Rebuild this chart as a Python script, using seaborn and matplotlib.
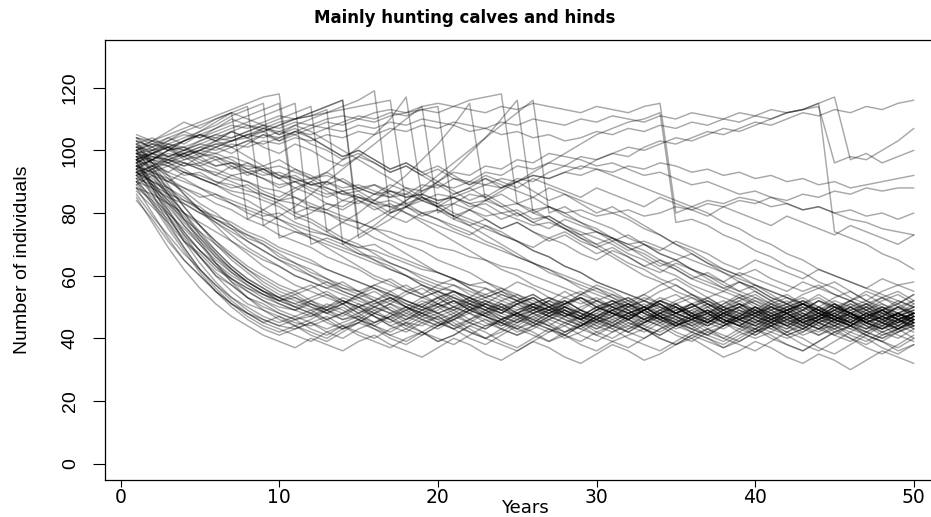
import numpy as np
import pandas as pd
import matplotlib
matplotlib.use("Agg")
import matplotlib.pyplot as plt
import seaborn as sns

# Simulated red deer population size per year (years 1..50), one list per run.
# Runs that fall quickly to the harvested equilibrium.
fast_decline = [
    [96, 88, 80, 74, 68, 63, 58, 55, 52, 50, 49, 51, 48, 46, 47, 50, 48, 45, 44, 47, 49, 46, 44, 45, 48, 50, 47, 45, 43, 46, 48, 47, 44, 42, 45, 47, 49, 46, 44, 43, 46, 48, 45, 43, 44, 47, 45, 42, 44, 46],
    [92, 86, 79, 71, 66, 60, 57, 53, 51, 48, 46, 47, 50, 52, 49, 47, 45, 48, 51, 53, 50, 48, 46, 44, 47, 49, 52, 50, 47, 45, 43, 46, 49, 51, 48, 46, 44, 47, 50, 48, 45, 42, 44, 46, 49, 47, 44, 41, 43, 45],
    [100, 93, 86, 78, 72, 66, 61, 57, 54, 52, 53, 50, 48, 51, 54, 52, 49, 47, 50, 53, 55, 52, 50, 48, 51, 53, 50, 47, 49, 52, 54, 51, 48, 46, 49, 51, 53, 50, 47, 45, 48, 50, 52, 49, 46, 48, 51, 49, 47, 50],
    [88, 80, 72, 65, 60, 55, 51, 48, 46, 44, 43, 45, 47, 44, 42, 40, 43, 45, 42, 40, 38, 41, 44, 46, 43, 41, 39, 42, 44, 41, 39, 37, 40, 43, 45, 42, 40, 38, 41, 43, 40, 38, 36, 39, 42, 44, 41, 39, 37, 40],
    [94, 90, 84, 79, 73, 68, 63, 59, 56, 53, 51, 49, 50, 48, 46, 49, 51, 48, 46, 44, 46, 49, 47, 45, 43, 45, 48, 50, 48, 46, 44, 47, 50, 47, 45, 43, 41, 44, 46, 48, 45, 43, 46, 48, 45, 43, 41, 44, 46, 43],
    [98, 89, 81, 73, 66, 60, 55, 51, 49, 47, 45, 44, 46, 48, 50, 47, 44, 42, 45, 47, 44, 42, 40, 43, 46, 48, 45, 42, 44, 47, 49, 46, 43, 41, 44, 46, 43, 41, 39, 42, 45, 47, 44, 41, 43, 45, 42, 40, 42, 45],
    [90, 85, 80, 75, 70, 65, 61, 58, 55, 53, 55, 57, 54, 52, 50, 52, 55, 57, 54, 51, 49, 52, 54, 56, 53, 50, 48, 51, 54, 56, 53, 50, 52, 55, 57, 54, 51, 49, 52, 54, 51, 49, 47, 50, 53, 55, 52, 50, 48, 51],
    [102, 95, 87, 80, 73, 67, 62, 58, 55, 52, 50, 48, 46, 48, 51, 49, 46, 44, 47, 50, 52, 49, 47, 45, 42, 44, 47, 49, 46, 44, 47, 49, 51, 48, 45, 43, 46, 48, 45, 42, 44, 47, 49, 46, 44, 42, 45, 47, 44, 42],
    [86, 79, 73, 67, 62, 57, 53, 50, 47, 45, 47, 49, 46, 43, 45, 48, 46, 43, 41, 44, 47, 45, 43, 46, 48, 45, 43, 40, 42, 45, 47, 44, 42, 45, 47, 45, 42, 40, 43, 46, 44, 41, 43, 46, 48, 45, 43, 46, 48, 45],
    [95, 91, 86, 80, 76, 71, 67, 63, 60, 57, 55, 52, 50, 53, 51, 48, 46, 49, 51, 48, 50, 53, 50, 47, 45, 48, 46, 44, 47, 50, 52, 49, 46, 48, 51, 48, 45, 47, 50, 52, 49, 46, 44, 47, 49, 46, 44, 47, 45, 48],
    [91, 84, 76, 69, 62, 57, 52, 48, 45, 43, 41, 39, 42, 44, 41, 39, 37, 40, 42, 39, 41, 44, 42, 39, 37, 40, 43, 41, 38, 36, 39, 41, 43, 40, 38, 41, 43, 40, 38, 36, 39, 42, 40, 37, 35, 38, 41, 39, 36, 38],
    [99, 94, 88, 82, 76, 71, 66, 62, 58, 55, 53, 51, 49, 51, 53, 55, 52, 50, 48, 50, 52, 49, 47, 50, 52, 54, 51, 49, 46, 49, 51, 53, 50, 48, 46, 49, 51, 48, 46, 49, 52, 50, 47, 45, 48, 50, 47, 45, 48, 50],
    [93, 87, 81, 74, 68, 63, 59, 56, 53, 51, 49, 47, 49, 52, 50, 47, 44, 46, 49, 47, 44, 46, 49, 51, 48, 46, 44, 42, 45, 48, 46, 43, 45, 48, 50, 47, 44, 46, 49, 47, 44, 42, 45, 47, 50, 48, 45, 43, 46, 48],
    [97, 92, 85, 78, 71, 64, 58, 53, 49, 46, 44, 46, 49, 51, 48, 45, 47, 50, 53, 55, 52, 49, 51, 54, 52, 49, 47, 50, 48, 45, 47, 50, 52, 49, 47, 44, 46, 49, 51, 48, 50, 52, 49, 47, 44, 46, 49, 51, 48, 46],
    [89, 83, 78, 72, 66, 61, 57, 53, 50, 48, 46, 48, 45, 43, 45, 48, 50, 47, 45, 43, 46, 48, 45, 43, 41, 44, 46, 49, 47, 44, 42, 44, 47, 45, 42, 40, 43, 45, 48, 46, 43, 41, 43, 46, 44, 41, 39, 42, 44, 47],
    [101, 97, 92, 86, 81, 76, 71, 67, 63, 60, 57, 55, 53, 51, 54, 56, 53, 51, 49, 52, 55, 53, 50, 48, 51, 49, 47, 50, 53, 51, 48, 46, 49, 52, 50, 47, 45, 48, 51, 49, 46, 48, 51, 53, 50, 48, 45, 47, 50, 52],
    [94, 86, 77, 69, 62, 56, 51, 47, 44, 42, 44, 41, 39, 42, 45, 43, 40, 38, 41, 44, 46, 43, 40, 38, 36, 39, 42, 44, 41, 39, 42, 45, 43, 40, 38, 41, 39, 37, 40, 43, 41, 38, 36, 39, 42, 40, 37, 35, 38, 41],
    [87, 82, 77, 71, 67, 62, 59, 56, 54, 51, 49, 52, 54, 51, 48, 50, 53, 50, 48, 45, 47, 50, 52, 49, 47, 49, 52, 55, 52, 49, 47, 50, 53, 51, 48, 46, 48, 51, 54, 51, 48, 46, 49, 52, 50, 47, 49, 52, 54, 51],
    [96, 90, 83, 76, 70, 64, 59, 55, 52, 49, 47, 45, 43, 45, 47, 44, 42, 45, 48, 46, 43, 45, 48, 50, 47, 44, 42, 45, 43, 41, 44, 47, 49, 46, 43, 45, 48, 45, 43, 41, 44, 46, 43, 41, 44, 47, 44, 42, 40, 43],
    [92, 88, 83, 78, 74, 70, 66, 62, 59, 56, 54, 56, 58, 55, 53, 50, 52, 55, 57, 54, 51, 53, 56, 53, 51, 48, 50, 53, 55, 52, 50, 47, 49, 52, 54, 51, 48, 50, 53, 55, 52, 49, 51, 54, 51, 48, 50, 53, 55, 52],
    [84, 78, 71, 65, 60, 55, 51, 48, 45, 47, 44, 42, 40, 43, 46, 44, 41, 43, 46, 48, 45, 42, 40, 42, 45, 47, 44, 41, 39, 42, 44, 46, 43, 41, 44, 46, 48, 45, 42, 40, 42, 45, 47, 44, 41, 39, 42, 44, 41, 39],
    [98, 93, 86, 80, 74, 68, 63, 59, 56, 53, 50, 52, 49, 47, 50, 52, 49, 46, 48, 51, 53, 50, 47, 45, 48, 50, 47, 45, 47, 50, 48, 45, 43, 46, 48, 51, 48, 45, 47, 50, 47, 44, 46, 49, 47, 44, 42, 45, 48, 46],
    [90, 83, 75, 68, 61, 55, 50, 46, 43, 41, 43, 45, 42, 40, 43, 45, 47, 44, 42, 39, 41, 44, 46, 43, 41, 43, 46, 48, 45, 42, 40, 43, 46, 44, 41, 39, 42, 44, 47, 44, 42, 40, 42, 45, 43, 40, 38, 41, 43, 40],
    [95, 89, 84, 77, 72, 67, 62, 58, 55, 52, 54, 51, 49, 46, 48, 51, 53, 50, 47, 49, 52, 50, 47, 44, 46, 49, 51, 48, 46, 48, 51, 49, 46, 44, 47, 49, 46, 44, 47, 50, 48, 45, 47, 50, 47, 45, 48, 46, 43, 46],
    [103, 96, 89, 82, 76, 70, 65, 61, 57, 54, 52, 50, 48, 50, 47, 45, 48, 50, 47, 45, 43, 46, 48, 51, 48, 46, 49, 47, 44, 46, 49, 51, 48, 45, 48, 50, 52, 49, 46, 44, 47, 49, 46, 48, 51, 48, 46, 44, 47, 49],
    [88, 84, 79, 73, 68, 64, 60, 57, 54, 52, 50, 48, 51, 49, 46, 44, 47, 49, 46, 44, 47, 50, 48, 45, 43, 46, 44, 47, 49, 46, 44, 42, 45, 47, 44, 42, 45, 48, 46, 43, 45, 48, 46, 43, 41, 44, 46, 49, 46, 43],
    [93, 89, 82, 76, 71, 66, 62, 58, 55, 53, 51, 53, 55, 52, 50, 48, 51, 54, 56, 53, 50, 48, 51, 49, 52, 54, 51, 48, 46, 49, 52, 50, 47, 49, 52, 54, 51, 48, 46, 48, 51, 53, 50, 48, 51, 48, 46, 49, 51, 54],
    [97, 88, 79, 71, 64, 58, 53, 49, 46, 44, 46, 43, 41, 44, 46, 43, 41, 39, 42, 45, 43, 40, 38, 41, 44, 42, 39, 41, 44, 46, 43, 40, 38, 36, 39, 42, 40, 37, 39, 42, 44, 41, 38, 36, 39, 42, 40, 37, 35, 38],
    [85, 77, 69, 62, 56, 51, 47, 44, 41, 39, 37, 40, 38, 36, 39, 41, 38, 36, 34, 37, 40, 38, 35, 33, 36, 39, 37, 34, 32, 35, 38, 36, 33, 35, 38, 40, 37, 34, 36, 39, 37, 34, 32, 35, 33, 30, 33, 36, 34, 32],
    [100, 96, 91, 86, 81, 77, 73, 69, 66, 63, 60, 58, 56, 58, 55, 57, 59, 56, 54, 57, 59, 56, 53, 55, 58, 56, 53, 51, 54, 57, 55, 52, 54, 57, 59, 56, 53, 55, 58, 56, 53, 51, 54, 56, 58, 55, 52, 55, 57, 55],
]

# Runs that settle more gradually, reaching the equilibrium band after 15-30 years.
medium_decline = [
    [97, 94, 90, 87, 83, 80, 76, 73, 70, 67, 64, 62, 59, 57, 55, 53, 51, 49, 52, 50, 47, 49, 52, 50, 47, 45, 48, 50, 47, 45, 48, 51, 49, 46, 44, 47, 49, 46, 44, 47, 50, 48, 45, 43, 46, 48, 45, 43, 46, 44],
    [91, 89, 86, 84, 81, 79, 77, 74, 72, 69, 67, 65, 62, 60, 58, 56, 54, 52, 50, 48, 50, 52, 49, 47, 45, 48, 50, 47, 45, 43, 46, 48, 50, 47, 44, 46, 49, 47, 44, 42, 45, 47, 44, 42, 45, 48, 46, 43, 45, 47],
    [103, 101, 98, 96, 95, 92, 90, 88, 85, 83, 80, 78, 75, 72, 70, 67, 64, 62, 59, 57, 55, 53, 51, 49, 47, 50, 52, 49, 47, 50, 52, 49, 46, 48, 51, 53, 50, 47, 45, 48, 50, 47, 45, 48, 51, 49, 46, 44, 47, 49],
    [94, 92, 88, 85, 81, 78, 75, 71, 68, 65, 62, 60, 57, 55, 53, 51, 53, 50, 48, 46, 48, 51, 49, 46, 44, 47, 49, 52, 49, 47, 44, 42, 45, 48, 46, 43, 41, 44, 46, 49, 46, 44, 42, 45, 47, 44, 42, 40, 43, 45],
    [99, 98, 96, 93, 91, 89, 87, 86, 84, 82, 79, 77, 74, 71, 68, 65, 63, 60, 57, 55, 53, 51, 53, 55, 52, 50, 48, 51, 53, 50, 48, 46, 49, 52, 50, 47, 45, 48, 50, 53, 50, 48, 45, 47, 50, 52, 49, 47, 44, 47],
    [88, 86, 83, 80, 77, 74, 71, 68, 65, 63, 60, 58, 56, 54, 52, 50, 48, 46, 49, 51, 48, 45, 43, 46, 48, 45, 43, 41, 44, 47, 45, 42, 40, 43, 46, 44, 41, 39, 42, 45, 47, 44, 41, 43, 46, 44, 41, 39, 42, 44],
    [101, 99, 97, 96, 94, 93, 91, 90, 88, 87, 85, 83, 81, 79, 77, 75, 72, 70, 68, 65, 63, 61, 58, 56, 54, 52, 50, 52, 49, 47, 50, 52, 49, 46, 48, 51, 48, 46, 44, 47, 49, 46, 44, 47, 49, 52, 49, 46, 48, 50],
    [95, 93, 91, 88, 86, 83, 81, 78, 76, 73, 71, 69, 66, 64, 62, 59, 57, 55, 53, 55, 57, 54, 52, 50, 48, 51, 53, 51, 48, 46, 49, 51, 54, 51, 48, 50, 53, 50, 48, 46, 49, 51, 48, 46, 49, 52, 50, 47, 45, 48],
    [104, 103, 102, 100, 99, 98, 96, 95, 94, 92, 91, 89, 88, 86, 85, 83, 82, 80, 78, 76, 74, 72, 70, 68, 66, 64, 62, 60, 58, 56, 54, 52, 50, 52, 49, 47, 50, 52, 49, 47, 45, 48, 50, 47, 45, 47, 50, 48, 45, 47],
    [90, 88, 85, 83, 80, 78, 75, 73, 71, 68, 66, 64, 62, 60, 58, 56, 54, 52, 50, 48, 46, 49, 51, 48, 46, 44, 47, 49, 46, 43, 45, 48, 50, 47, 44, 46, 49, 46, 44, 41, 44, 46, 48, 45, 42, 44, 47, 45, 42, 44],
    [98, 96, 95, 93, 92, 90, 89, 87, 86, 84, 83, 81, 80, 78, 77, 75, 74, 72, 71, 69, 68, 66, 65, 63, 62, 60, 58, 56, 54, 52, 50, 48, 50, 53, 51, 48, 46, 49, 51, 48, 46, 44, 47, 49, 46, 44, 47, 50, 48, 46],
    [93, 90, 88, 84, 82, 78, 76, 72, 70, 66, 64, 61, 59, 56, 55, 52, 54, 51, 49, 51, 54, 51, 49, 46, 48, 51, 49, 46, 44, 47, 50, 48, 45, 47, 50, 48, 45, 43, 46, 48, 51, 48, 45, 47, 50, 48, 45, 43, 46, 48],
]

# Runs that stay near the start level for a while before declining.
slow_decline = [
    [102, 99, 96, 94, 91, 89, 86, 84, 81, 78, 75, 72, 69, 66, 63, 60, 58, 55, 53, 51, 49, 51, 48, 46, 49, 51, 48, 46, 44, 47, 49, 46, 44, 47, 49, 51, 48, 45, 47, 50, 48, 45, 43, 46, 48, 45, 43, 46, 48, 45],
    [98, 97, 95, 92, 93, 90, 88, 89, 86, 84, 85, 82, 80, 77, 75, 72, 70, 67, 64, 61, 59, 56, 54, 52, 50, 48, 50, 52, 49, 47, 45, 48, 50, 47, 45, 48, 51, 48, 46, 44, 47, 49, 46, 44, 47, 50, 47, 45, 43, 46],
    [105, 103, 100, 101, 98, 99, 97, 94, 95, 92, 90, 91, 88, 86, 87, 84, 82, 83, 80, 78, 76, 74, 71, 69, 66, 64, 61, 59, 56, 54, 52, 50, 48, 50, 47, 45, 47, 50, 48, 45, 43, 46, 48, 45, 47, 50, 48, 45, 43, 46],
    [95, 93, 90, 88, 85, 86, 83, 81, 79, 80, 77, 75, 73, 71, 69, 70, 67, 65, 63, 61, 59, 57, 58, 55, 53, 51, 49, 51, 53, 50, 48, 46, 49, 51, 48, 46, 48, 51, 53, 50, 47, 49, 52, 50, 47, 45, 48, 50, 47, 49],
    [100, 98, 97, 95, 96, 94, 92, 93, 91, 89, 90, 88, 86, 87, 85, 83, 84, 82, 80, 81, 79, 77, 75, 73, 71, 68, 66, 63, 61, 58, 56, 54, 52, 50, 48, 50, 47, 45, 48, 50, 47, 45, 43, 46, 48, 46, 43, 45, 48, 46],
    [93, 90, 87, 83, 80, 77, 74, 71, 68, 65, 63, 60, 58, 56, 54, 57, 55, 52, 50, 53, 55, 52, 50, 48, 51, 53, 50, 48, 46, 49, 51, 48, 46, 49, 47, 44, 47, 49, 46, 44, 46, 49, 51, 48, 46, 44, 47, 49, 46, 44],
    [104, 100, 101, 97, 98, 95, 96, 93, 94, 91, 92, 89, 90, 87, 88, 86, 87, 85, 86, 84, 85, 82, 83, 80, 81, 78, 79, 76, 74, 72, 70, 67, 65, 62, 60, 57, 55, 53, 51, 49, 47, 49, 51, 48, 46, 49, 51, 48, 46, 48],
    [97, 95, 92, 90, 88, 85, 83, 80, 78, 76, 74, 72, 70, 68, 66, 64, 62, 60, 58, 56, 55, 53, 51, 49, 51, 53, 50, 48, 46, 49, 51, 53, 50, 47, 45, 48, 50, 47, 45, 43, 46, 48, 45, 47, 50, 48, 45, 43, 45, 48],
    [101, 100, 98, 99, 97, 95, 96, 94, 92, 93, 91, 89, 90, 88, 89, 87, 85, 86, 84, 82, 83, 81, 79, 80, 78, 76, 77, 75, 73, 74, 72, 70, 71, 69, 67, 65, 63, 61, 59, 57, 55, 53, 51, 49, 51, 48, 46, 49, 51, 48],
    [99, 96, 93, 91, 88, 86, 84, 82, 80, 78, 76, 74, 73, 71, 69, 68, 66, 64, 62, 61, 59, 57, 56, 54, 52, 50, 49, 51, 53, 50, 48, 46, 49, 51, 48, 46, 44, 47, 49, 46, 44, 47, 49, 52, 49, 47, 45, 47, 50, 48],
]

# Runs that wander at high numbers for decades before drifting down.
wandering = [
    [96, 99, 101, 98, 100, 103, 101, 98, 95, 97, 94, 91, 93, 90, 87, 89, 86, 83, 85, 82, 79, 81, 78, 75, 77, 74, 71, 73, 70, 67, 69, 66, 63, 65, 62, 59, 61, 58, 55, 57, 54, 51, 53, 50, 48, 51, 49, 46, 48, 45],
    [94, 97, 100, 103, 105, 103, 106, 104, 101, 99, 102, 100, 97, 95, 98, 96, 93, 95, 92, 94, 91, 89, 92, 90, 88, 91, 89, 87, 85, 88, 86, 84, 82, 85, 83, 81, 79, 82, 80, 78, 76, 79, 77, 75, 73, 76, 74, 72, 70, 73],
    [102, 104, 101, 99, 96, 98, 95, 92, 94, 91, 88, 90, 87, 84, 86, 83, 80, 82, 79, 81, 78, 76, 78, 75, 77, 74, 72, 74, 71, 69, 71, 68, 70, 67, 65, 67, 64, 62, 60, 62, 59, 57, 55, 57, 54, 52, 54, 51, 49, 52],
    [91, 94, 97, 95, 98, 101, 99, 102, 105, 103, 106, 104, 101, 98, 100, 97, 94, 96, 93, 90, 87, 84, 86, 83, 80, 77, 79, 76, 73, 70, 72, 69, 66, 63, 65, 62, 59, 56, 58, 55, 52, 54, 51, 49, 52, 50, 47, 49, 52, 50],
    [99, 97, 100, 98, 95, 97, 94, 96, 93, 91, 94, 92, 89, 91, 88, 86, 89, 87, 84, 82, 85, 83, 81, 78, 80, 77, 75, 78, 76, 74, 71, 73, 70, 68, 71, 69, 67, 64, 62, 65, 63, 61, 59, 62, 60, 58, 56, 59, 57, 58],
    [97, 100, 103, 106, 104, 107, 110, 108, 106, 103, 105, 102, 100, 97, 99, 96, 93, 95, 92, 89, 86, 88, 85, 82, 79, 81, 78, 75, 72, 69, 66, 63, 60, 58, 55, 53, 51, 49, 51, 48, 46, 49, 51, 48, 46, 44, 47, 49, 46, 48],
    [93, 95, 93, 96, 94, 92, 95, 93, 91, 88, 90, 87, 85, 87, 84, 81, 83, 80, 77, 74, 71, 68, 65, 62, 60, 57, 55, 53, 51, 53, 50, 48, 46, 49, 51, 48, 46, 44, 47, 49, 46, 44, 47, 50, 47, 45, 48, 46, 43, 45],
    [100, 103, 106, 109, 107, 110, 112, 110, 108, 105, 107, 104, 101, 98, 100, 97, 94, 96, 93, 95, 92, 89, 91, 88, 90, 87, 84, 86, 83, 80, 82, 79, 76, 73, 70, 67, 64, 61, 58, 56, 53, 51, 49, 52, 50, 47, 45, 48, 50, 47],
    [89, 92, 90, 93, 91, 89, 92, 90, 87, 85, 88, 86, 83, 81, 84, 82, 79, 77, 80, 78, 75, 73, 76, 74, 71, 69, 72, 70, 67, 65, 68, 66, 63, 61, 64, 62, 60, 58, 61, 59, 57, 55, 58, 56, 54, 52, 55, 53, 51, 54],
    [103, 101, 104, 102, 105, 103, 106, 104, 107, 105, 108, 106, 103, 100, 97, 94, 91, 88, 85, 82, 79, 76, 73, 70, 67, 64, 62, 59, 57, 55, 53, 51, 49, 52, 50, 47, 45, 48, 50, 47, 45, 48, 51, 49, 46, 44, 47, 49, 46, 48],
]

# Runs that grow past the cull threshold and are knocked back in one season.
culled_peaks = [
    [92, 95, 98, 100, 103, 105, 107, 109, 111, 113, 115, 70, 72, 70, 67, 65, 62, 60, 57, 55, 53, 51, 49, 52, 54, 51, 49, 47, 50, 52, 49, 47, 45, 48, 50, 47, 45, 48, 50, 47, 45, 43, 46, 48, 45, 43, 46, 48, 46, 44],
    [95, 97, 96, 99, 101, 103, 104, 106, 108, 110, 112, 114, 74, 77, 80, 84, 88, 92, 97, 102, 108, 115, 84, 86, 83, 80, 78, 75, 72, 70, 67, 64, 62, 59, 57, 54, 52, 50, 52, 49, 47, 50, 52, 49, 47, 45, 48, 50, 47, 45],
    [98, 99, 101, 100, 102, 104, 103, 105, 107, 106, 108, 110, 112, 114, 116, 119, 80, 82, 85, 83, 86, 88, 91, 89, 87, 85, 82, 80, 77, 75, 72, 70, 68, 65, 63, 60, 58, 56, 54, 52, 50, 48, 50, 47, 45, 48, 50, 47, 45, 47],
    [94, 97, 100, 103, 106, 109, 112, 78, 81, 84, 87, 90, 93, 97, 101, 105, 110, 117, 85, 83, 80, 78, 76, 73, 71, 68, 66, 63, 61, 58, 56, 54, 52, 50, 48, 50, 52, 49, 47, 45, 48, 50, 47, 45, 43, 46, 48, 45, 43, 46],
    [90, 93, 95, 97, 99, 101, 103, 104, 106, 108, 110, 112, 114, 116, 72, 75, 78, 82, 86, 90, 94, 99, 104, 110, 116, 80, 82, 79, 77, 74, 72, 69, 67, 64, 62, 59, 57, 55, 53, 51, 49, 51, 48, 46, 49, 51, 48, 46, 44, 47],
    [97, 99, 98, 100, 102, 101, 103, 105, 104, 106, 105, 107, 109, 108, 110, 109, 111, 112, 113, 114, 78, 81, 84, 87, 90, 93, 96, 99, 102, 105, 107, 109, 110, 112, 77, 78, 76, 73, 71, 68, 66, 63, 61, 58, 56, 53, 51, 53, 50, 48],
    [96, 99, 102, 104, 106, 108, 111, 113, 115, 72, 74, 73, 71, 69, 67, 66, 64, 62, 60, 58, 57, 55, 53, 51, 49, 51, 53, 50, 48, 46, 49, 51, 48, 46, 44, 47, 49, 46, 44, 47, 50, 48, 45, 43, 46, 48, 45, 47, 50, 47],
    [100, 102, 101, 103, 105, 104, 106, 108, 107, 109, 110, 111, 112, 113, 114, 115, 116, 82, 84, 86, 85, 87, 89, 88, 90, 92, 91, 93, 95, 94, 92, 90, 88, 86, 84, 82, 80, 77, 75, 72, 70, 67, 65, 62, 60, 58, 56, 54, 52, 50],
    [93, 95, 97, 99, 100, 102, 103, 105, 106, 108, 110, 111, 113, 70, 73, 76, 80, 84, 88, 92, 96, 100, 104, 108, 112, 116, 80, 82, 79, 77, 75, 72, 70, 67, 65, 62, 60, 57, 55, 53, 51, 49, 51, 48, 46, 49, 51, 48, 46, 48],
    [99, 100, 102, 101, 103, 105, 104, 106, 108, 107, 109, 108, 110, 111, 110, 112, 113, 112, 114, 115, 114, 116, 117, 118, 83, 85, 88, 86, 84, 82, 80, 78, 75, 73, 70, 68, 65, 62, 60, 57, 55, 53, 51, 49, 47, 50, 52, 49, 47, 45],
]

# Runs that remain high until the end of the simulation.
persistent_high = [
    [100, 102, 104, 106, 108, 110, 112, 114, 76, 79, 82, 86, 90, 94, 98, 102, 106, 110, 114, 80, 83, 86, 85, 88, 91, 90, 93, 95, 94, 97, 99, 98, 101, 103, 102, 104, 106, 105, 107, 109, 108, 110, 112, 111, 113, 112, 114, 113, 115, 116],
    [96, 98, 97, 99, 101, 100, 102, 101, 103, 102, 104, 103, 105, 104, 106, 105, 107, 106, 108, 107, 109, 108, 107, 109, 108, 110, 109, 108, 110, 109, 111, 110, 109, 111, 110, 112, 111, 110, 112, 111, 113, 112, 113, 114, 96, 98, 97, 100, 103, 107],
    [97, 99, 101, 103, 105, 107, 109, 111, 113, 115, 78, 80, 83, 82, 85, 84, 87, 86, 89, 88, 91, 90, 93, 92, 95, 94, 96, 95, 98, 97, 99, 101, 100, 102, 104, 103, 105, 107, 106, 108, 110, 112, 113, 115, 117, 97, 99, 96, 98, 100],
    [101, 103, 105, 107, 109, 111, 113, 115, 117, 118, 80, 82, 81, 84, 83, 86, 85, 88, 87, 89, 88, 90, 89, 91, 90, 92, 91, 93, 92, 94, 93, 95, 94, 96, 95, 93, 94, 92, 93, 91, 92, 90, 91, 89, 90, 88, 89, 90, 91, 92],
    [95, 97, 99, 98, 100, 102, 101, 103, 105, 104, 106, 108, 107, 109, 111, 110, 112, 111, 113, 112, 114, 113, 112, 114, 113, 115, 114, 113, 112, 114, 113, 112, 114, 115, 80, 82, 84, 83, 85, 84, 82, 83, 81, 82, 80, 81, 79, 80, 78, 80],
    [99, 101, 103, 105, 104, 106, 108, 107, 109, 111, 110, 112, 114, 116, 75, 78, 81, 84, 87, 90, 93, 92, 95, 94, 97, 96, 99, 98, 97, 95, 96, 94, 92, 93, 91, 89, 90, 88, 86, 87, 85, 83, 81, 82, 80, 78, 77, 75, 74, 73],
    [92, 94, 96, 98, 100, 99, 101, 103, 102, 104, 106, 105, 107, 106, 108, 107, 109, 108, 110, 109, 108, 106, 107, 105, 106, 104, 105, 103, 104, 106, 105, 107, 106, 108, 107, 109, 108, 110, 109, 111, 110, 112, 113, 115, 74, 72, 70, 67, 65, 62],
    [104, 102, 100, 101, 99, 97, 98, 96, 94, 95, 93, 91, 92, 90, 88, 89, 87, 85, 86, 84, 85, 83, 84, 82, 83, 81, 82, 80, 81, 79, 80, 81, 79, 80, 82, 81, 83, 82, 84, 83, 85, 84, 86, 85, 87, 86, 88, 87, 88, 88],
]

x_ticks = [0, 10, 20, 30, 40, 50]
y_ticks = [0, 20, 40, 60, 80, 100, 120]

# Long table: one row per run and year
rows = []
run_id = 0
for group in (fast_decline, medium_decline, slow_decline, wandering, culled_peaks, persistent_high):
    for series in group:
        for year, n in enumerate(series, start=1):
            rows.append((run_id, year, n))
        run_id += 1
df = pd.DataFrame(rows, columns=["run", "Years", "N"])

sns.set_style("white")
plt.rcParams["font.family"] = ["Liberation Sans", "DejaVu Sans"]
plt.rcParams.update({
    "text.color": "black",
    "axes.labelcolor": "black",
    "xtick.color": "black",
    "ytick.color": "black",
    "axes.edgecolor": "black",
})

fig = plt.figure(figsize=(9.31, 5.17), dpi=100)
ax = fig.add_axes([0.1131, 0.0716, 0.9019, 0.8510])

sns.lineplot(data=df, x="Years", y="N", units="run", estimator=None,
             color="black", alpha=0.34, linewidth=1.05, ax=ax, legend=False)

# R-style extended limits (4% padding on data range)
ax.set_xlim(1 - 0.04 * 49, 50 + 0.04 * 49)
ax.set_ylim(0 - 0.04 * 130, 130 + 0.04 * 130)

narrow = ["Liberation Sans Narrow", "Liberation Sans", "DejaVu Sans"]

ax.set_xticks(x_ticks)
ax.set_yticks(y_ticks)
ax.set_xticklabels([str(t) for t in x_ticks], family="DejaVu Sans", fontsize=13.5)
ax.set_yticklabels([str(t) for t in y_ticks], family=narrow,
                   fontsize=14, rotation=90, va="center")
ax.tick_params(axis="x", direction="out", length=5, width=0.8, pad=1, color="black")
ax.tick_params(axis="y", direction="out", length=9, width=0.8, pad=10, color="black")
ax.tick_params(bottom=True, left=True)

for side in ax.spines.values():
    side.set_visible(True)
    side.set_color("black")
    side.set_linewidth(0.9)

ax.set_xlabel("Years", family="DejaVu Sans", fontsize=13)
ax.xaxis.set_label_coords(0.5, -0.064)
ax.xaxis.label.set_va("center")
ax.set_ylabel("Number of individuals", family=narrow, fontsize=14, labelpad=22)
fig.text(0.4995, 0.965, "Mainly hunting calves and hinds", ha="center", va="center",
         family="DejaVu Sans", fontweight="bold", fontsize=12)

fig.savefig("out.png", dpi=100)
